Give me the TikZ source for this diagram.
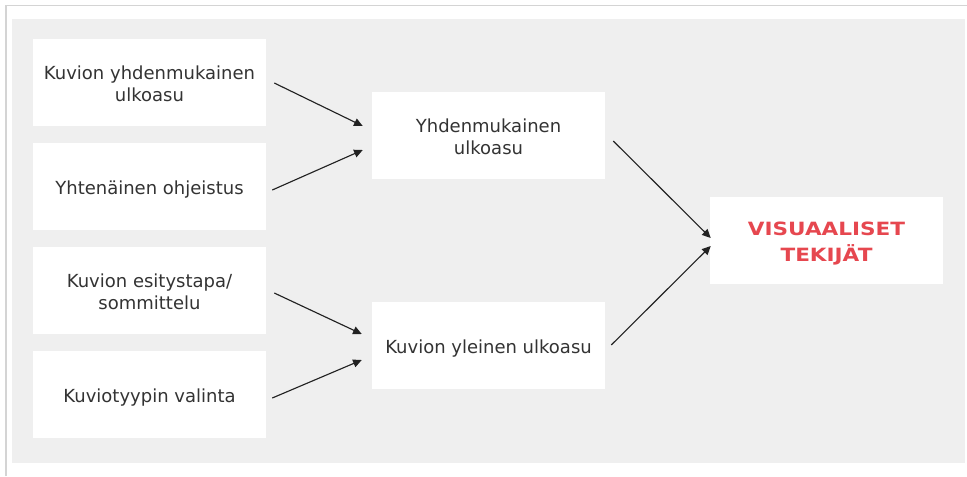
\documentclass[tikz,border=0pt]{standalone}
\usepackage{fontspec}
\setmainfont{DejaVu Sans}
\newfontfamily\headfont[FakeStretch=1.18]{DejaVu Sans Bold}
\usetikzlibrary{arrows.meta,calc}
\definecolor{panel}{HTML}{EFEFEF}
\definecolor{framegray}{HTML}{D4D4D4}
\definecolor{ink}{HTML}{333333}
\definecolor{accent}{HTML}{E6474F}
\definecolor{arrowink}{HTML}{222222}
\tikzset{
  box/.style={fill=white, draw=none, inner sep=0pt, align=center,
    minimum width=174.75pt, minimum height=65.25pt, text=ink,
    text depth=0pt,
    font=\fontsize{13.5}{16.5}\selectfont},
  oneline/.style={text height=12.4pt},
  twoline/.style={text height=29.2pt},
  redbox/.style={box, text=accent, text height=31.8pt,
    font=\headfont\fontsize{13.7}{19.3}\selectfont},
  link/.style={draw=arrowink, line width=0.85pt, -{Triangle[length=6.5pt,width=6pt]}}
}
\begin{document}
\begin{tikzpicture}[x=0.75pt, y=-0.75pt]
  \useasboundingbox (0,0) rectangle (967,476);
  % outer frame and panel
  \draw[framegray, line width=1pt] (6,476) -- (6,5.5) -- (967,5.5);
  \fill[panel] (12,19) rectangle (965,463);

  % input factors
  \node[box, twoline] (lb1) at (149.5,82.5)  {Kuvion yhdenmukainen\\ulkoasu};
  \node[box, oneline] (lb2) at (149.5,186.5) {Yhtenäinen ohjeistus};
  \node[box, twoline] (lb3) at (149.5,290.5) {Kuvion esitystapa/\\sommittelu};
  \node[box, oneline] (lb4) at (149.5,394.5) {Kuviotyypin valinta};

  % intermediate groups
  \node[box, twoline] (m1) at (488.5,135.5) {Yhdenmukainen\\ulkoasu};
  \node[box, oneline] (m2) at (488.5,345) {Kuvion yleinen ulkoasu};

  % result
  \node[redbox] (res) at (826.5,240.5) {VISUAALISET\\TEKIJÄT};

  % connectors
  \draw[link] ($(lb1.east)+(8,0.5)$) -- ($(m1.west)+(-9,-9.5)$);
  \draw[link] ($(lb2.east)+(6,3.5)$) -- ($(m1.west)+(-9,14.5)$);
  \draw[link] ($(lb3.east)+(8,2.5)$) -- ($(m2.west)+(-10,-11)$);
  \draw[link] ($(lb4.east)+(6,3.5)$) -- ($(m2.west)+(-10,15)$);
  \draw[link] ($(m1.east)+(8,5.5)$) -- ($(res.west)+(1,-2.5)$);
  \draw[link] ($(m2.east)+(6,0)$) -- ($(res.west)+(1,5.5)$);
\end{tikzpicture}
\end{document}
